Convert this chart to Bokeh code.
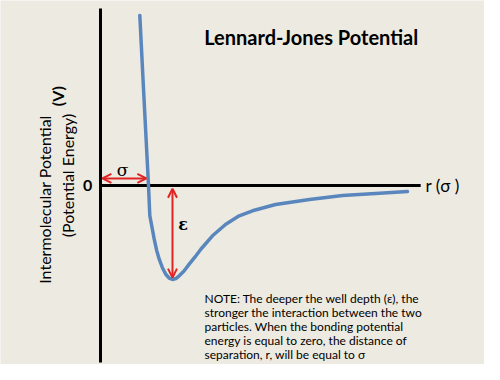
from bokeh.plotting import figure
from bokeh.models import Range1d, Arrow, OpenHead, Label
from bokeh.embed import file_html
from bokeh.resources import INLINE
import math

# Lennard-Jones curve (r: crossing = 1, V in units of epsilon)
r_vals = [0.819, 0.90, 1.00, 1.027, 1.075, 1.119, 1.17, 1.223, 1.29, 1.36, 1.43, 1.50,
          1.57, 1.64, 1.74, 1.848, 1.97, 2.09, 2.333, 2.61, 2.89, 3.167, 3.646, 4.354,
          5.042, 5.729, 6.396]
v_vals = [1.809, 0.989, 0.00, -0.319, -0.45, -0.571, -0.69, -0.784, -0.875, -0.944, -0.985, -1.00,
          -0.99, -0.961, -0.91, -0.837, -0.76, -0.678, -0.535, -0.412, -0.322, -0.269, -0.202, -0.149,
          -0.106, -0.085, -0.064]

sigma_r = 1.0
well_r = 1.5
well_depth = -1.0

title_text = "Lennard-Jones Potential"
y_label_1 = "Intermolecular Potential"
y_label_v = "(V)"
y_label_2 = "(Potential Energy)"
x_label = "r (σ )"
note_lines = [
    "NOTE: The deeper the well depth (ε), the",
    "stronger the interaction between the two",
    "particles.  When the bonding potential",
    "energy is equal to zero, the distance of",
    "separation, r, will be equal to σ",
]

BG = "#EDEAE1"
BLUE = "#5A86BE"
RED = "#E02424"

p = figure(width=484, height=364, output_backend="svg", toolbar_location=None,
           x_range=Range1d(-100 / 48, 384 / 48), y_range=Range1d(-179 / 94, 185 / 94),
           min_border=0, min_border_left=0, min_border_right=0, min_border_top=0, min_border_bottom=0)
p.xaxis.visible = False
p.yaxis.visible = False
p.grid.visible = False
p.outline_line_color = None
p.background_fill_color = BG
p.border_fill_color = BG

# axes drawn as lines
p.line([0, 0], [1.883, -1.883], line_color="black", line_width=3)
p.line([0, 6.67], [0, 0], line_color="black", line_width=3)

# curve
p.line(r_vals, v_vals, line_color=BLUE, line_width=3.5, line_join="round", line_cap="round")

# sigma arrow
p.add_layout(Arrow(x_start=0.04, y_start=0.075, x_end=sigma_r - 0.045, y_end=0.075,
                   line_color=RED, line_width=2,
                   start=OpenHead(size=9, line_color=RED, line_width=2),
                   end=OpenHead(size=9, line_color=RED, line_width=2)))
# epsilon arrow
p.add_layout(Arrow(x_start=well_r, y_start=-0.035, x_end=well_r, y_end=well_depth + 0.02,
                   line_color=RED, line_width=2,
                   start=OpenHead(size=9, line_color=RED, line_width=2),
                   end=OpenHead(size=9, line_color=RED, line_width=2)))

def lab(x, y, text, size, bold=False, font="Lato", align="center", angle=0.0, baseline="middle"):
    p.add_layout(Label(x=x, y=y, text=text, text_font=font, text_font_size=f"{size}px",
                       text_font_style="bold" if bold else "normal", text_align=align,
                       text_baseline=baseline, angle=angle, text_color="black"))

lab(0.46, 0.16, "σ", 17, font="DejaVu Serif")
lab(1.72, -0.42, "ε", 16, bold=True, font="DejaVu Serif")
lab(4.39, 1.585, title_text, 20, bold=True)
lab(-0.27, 0.0, "0", 16, bold=True)
lab(6.77, 0.0, x_label, 17, align="left")
lab(-1.167, -0.149, y_label_1, 16, angle=math.pi / 2, align="center")
lab(-0.6875, 0.106, y_label_2, 16, angle=math.pi / 2, align="center")
lab(-0.90, 0.95, y_label_v, 16, bold=True, angle=math.pi / 2, align="center")

ys = [-1.202, -1.351, -1.500, -1.649, -1.798]
for t, yy in zip(note_lines, ys):
    lab(2.167, yy, t, 12, align="left")

open("out.html", "w").write(file_html(p, INLINE))
